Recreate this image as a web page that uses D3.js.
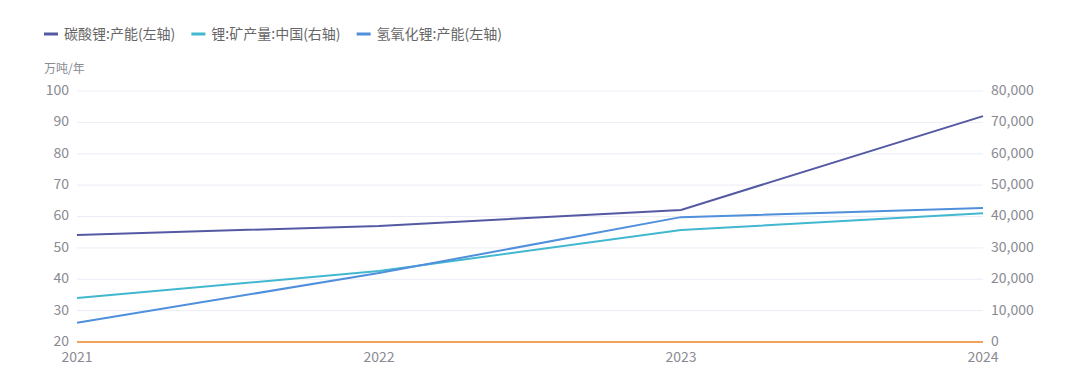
<!DOCTYPE html>
<html><head><meta charset="utf-8">
<script src="https://cdn.jsdelivr.net/npm/d3@7"></script>
<style>body{margin:0;background:#fff;font-family:"Noto Sans CJK SC","Noto Sans",sans-serif;}</style>
</head><body><svg id="c" width="1080" height="392"></svg>
<script>
const years = ["2021","2022","2023","2024"];
const li2co3 = [54.1, 57.0, 62.1, 92.0];           // 碳酸锂:产能(左轴)
const mineCN = [14000, 22600, 35700, 41000];       // 锂:矿产量:中国(右轴)
const lioh = [26.1, 42.0, 59.8, 62.7];             // 氢氧化锂:产能(左轴)
const baseSeries = [0, 0, 0, 0];                   // orange line (右轴)
const leftTicks = [20,30,40,50,60,70,80,90,100];
const rightTicks = [0,10000,20000,30000,40000,50000,60000,70000,80000];
const legendNames = ["碳酸锂:产能(左轴)","锂:矿产量:中国(右轴)","氢氧化锂:产能(左轴)"];
const colors = ["#5459a3","#41b8cf","#4f8fdc","#f2a25c"];

const svg = d3.select("#c");
const L = 77, R = 983, T = 91, B = 342;
const x = d3.scalePoint().domain(years).range([L, R]);
const yL = d3.scaleLinear().domain([20,100]).range([B, T]);
const yR = d3.scaleLinear().domain([0,80000]).range([B, T]);

// grid
svg.append("g").selectAll("line").data(leftTicks).join("line")
  .attr("x1", L).attr("x2", R).attr("y1", d=>yL(d)).attr("y2", d=>yL(d))
  .attr("stroke", "#ececf6").attr("stroke-width", 1);

// left axis labels
svg.append("g").selectAll("text").data(leftTicks).join("text")
  .attr("x", 69).attr("y", d=>yL(d) - 1).attr("dy","0.35em").attr("text-anchor","end")
  .attr("font-size", 14).attr("fill", "#8a8a92").text(d=>d);
// right axis labels
const fmt = d3.format(",");
svg.append("g").selectAll("text").data(rightTicks).join("text")
  .attr("x", 991).attr("y", d=>yR(d) - 1).attr("dy","0.35em").attr("text-anchor","start")
  .attr("font-size", 14).attr("fill", "#8a8a92").text(d=>fmt(d));
// x labels
svg.append("g").selectAll("text").data(years).join("text")
  .attr("x", d=>x(d)).attr("y", 362).attr("text-anchor","middle")
  .attr("font-size", 14).attr("fill", "#8a8a92").text(d=>d);
// unit
svg.append("text").attr("x", 44).attr("y", 73).attr("font-size", 12).attr("fill","#8a8a92").text("万吨/年");

// lines
const lineL = d3.line().x((d,i)=>x(years[i])).y(d=>yL(d));
const lineR = d3.line().x((d,i)=>x(years[i])).y(d=>yR(d));
svg.append("path").attr("d", lineR(baseSeries)).attr("fill","none").attr("stroke",colors[3]).attr("stroke-width",2);
svg.append("path").attr("d", lineR(mineCN)).attr("fill","none").attr("stroke",colors[1]).attr("stroke-width",2);
svg.append("path").attr("d", lineL(lioh)).attr("fill","none").attr("stroke",colors[2]).attr("stroke-width",2);
svg.append("path").attr("d", lineL(li2co3)).attr("fill","none").attr("stroke",colors[0]).attr("stroke-width",2);

// legend
const lg = svg.append("g");
let lx = 44;
legendNames.forEach((n,i)=>{
  lg.append("line").attr("x1",lx).attr("x2",lx+14).attr("y1",34).attr("y2",34).attr("stroke",colors[i]).attr("stroke-width",3);
  const t = lg.append("text").attr("x",lx+20).attr("y",34).attr("dy","0.35em").attr("font-size",14).attr("fill","#666").text(n);
  lx += 20 + t.node().getComputedTextLength() + 16;
});
</script></body></html>
